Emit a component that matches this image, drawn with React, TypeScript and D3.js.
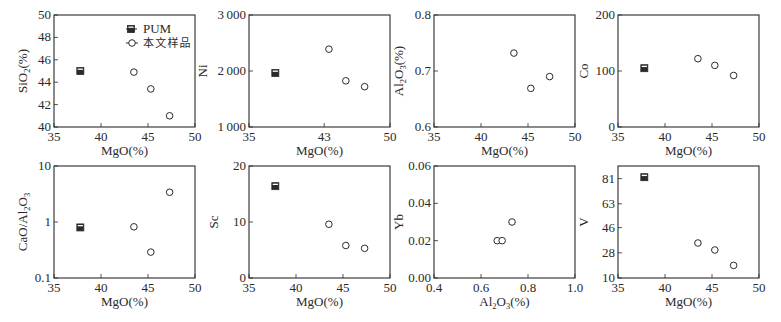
import * as d3 from 'd3';

// sample MgO (%) and PUM reference
const sampleMgO = [43.5, 45.3, 47.3];
const pumMgO = 37.8;

const sampleSiO2 = [44.9, 43.4, 41.0];
const pumSiO2 = 45.0;
const sampleNi = [2390, 1825, 1720];
const pumNi = 1965;
const sampleAl2O3 = [0.732, 0.669, 0.69];
const sampleCo = [122, 110, 92];
const pumCo = 105;
const sampleCaOAl = [0.82, 0.29, 3.4];
const pumCaOAl = 0.8;
const sampleSc = [9.6, 5.8, 5.3];
const pumSc = 16.4;
const sampleYb = [0.03, 0.02, 0.02];
const sampleV = [35, 30, 19];
const pumV = 82;

const mgoTicks = [35, 40, 45, 50];
const niMgoTicks = [35, 43, 50];
const al2o3Ticks = [0.4, 0.6, 0.8, 1.0];
const vTicks = [10, 28, 46, 63, 81];

const W = 781, H = 322;
const colX = [54, 249, 434, 618];
const rowY = [15, 166];
const pw = 141, ph = 112;
const ink = '#2a2a2a';
const serif = "'Liberation Serif', 'Times New Roman', Times, 'DejaVu Serif', serif";

type Label = { t: string; sub?: boolean }[];

type Panel = {
  col: number; row: number;
  xDomain: [number, number]; xTicks: number[]; xFmt: (d: number) => string;
  yDomain: [number, number]; yTicks: number[]; yFmt: (d: number) => string;
  log?: boolean;
  xLabel: Label; yLabel: Label; yLabOff: number;
  xs: number[]; ys: number[]; pum?: [number, number];
  legend?: boolean;
};

const mgoLabel: Label = [{ t: 'MgO(%)' }];
const f0 = (d: number) => String(d);

const panels: Panel[] = [
  { col: 0, row: 0, xDomain: [35, 50], xTicks: mgoTicks, xFmt: f0, yDomain: [40, 50], yTicks: [40, 42, 44, 46, 48, 50], yFmt: f0,
    xLabel: mgoLabel, yLabel: [{ t: 'SiO' }, { t: '2', sub: true }, { t: '(%)' }], yLabOff: 27,
    xs: sampleMgO, ys: sampleSiO2, pum: [pumMgO, pumSiO2], legend: true },
  { col: 1, row: 0, xDomain: [35, 50], xTicks: niMgoTicks, xFmt: f0, yDomain: [1000, 3000], yTicks: [1000, 2000, 3000],
    yFmt: d => `${d / 1000}\u2009000`,
    xLabel: mgoLabel, yLabel: [{ t: 'Ni' }], yLabOff: 42,
    xs: sampleMgO, ys: sampleNi, pum: [pumMgO, pumNi] },
  { col: 2, row: 0, xDomain: [35, 50], xTicks: mgoTicks, xFmt: f0, yDomain: [0.6, 0.8], yTicks: [0.6, 0.7, 0.8], yFmt: d3.format('.1f'),
    xLabel: mgoLabel, yLabel: [{ t: 'Al' }, { t: '2', sub: true }, { t: 'O' }, { t: '3', sub: true }, { t: '(%)' }], yLabOff: 31,
    xs: sampleMgO, ys: sampleAl2O3 },
  { col: 3, row: 0, xDomain: [35, 50], xTicks: mgoTicks, xFmt: f0, yDomain: [0, 200], yTicks: [0, 100, 200], yFmt: f0,
    xLabel: mgoLabel, yLabel: [{ t: 'Co' }], yLabOff: 30,
    xs: sampleMgO, ys: sampleCo, pum: [pumMgO, pumCo] },
  { col: 0, row: 1, xDomain: [35, 50], xTicks: mgoTicks, xFmt: f0, yDomain: [0.1, 10], yTicks: [0.1, 1, 10], yFmt: f0, log: true,
    xLabel: mgoLabel, yLabel: [{ t: 'CaO/Al' }, { t: '2', sub: true }, { t: 'O' }, { t: '3', sub: true }], yLabOff: 27,
    xs: sampleMgO, ys: sampleCaOAl, pum: [pumMgO, pumCaOAl] },
  { col: 1, row: 1, xDomain: [35, 50], xTicks: mgoTicks, xFmt: f0, yDomain: [0, 20], yTicks: [0, 10, 20], yFmt: f0,
    xLabel: mgoLabel, yLabel: [{ t: 'Sc' }], yLabOff: 31,
    xs: sampleMgO, ys: sampleSc, pum: [pumMgO, pumSc] },
  { col: 2, row: 1, xDomain: [0.4, 1.0], xTicks: al2o3Ticks, xFmt: d3.format('.1f'), yDomain: [0, 0.06], yTicks: [0, 0.02, 0.04, 0.06], yFmt: d3.format('.2f'),
    xLabel: [{ t: 'Al' }, { t: '2', sub: true }, { t: 'O' }, { t: '3', sub: true }, { t: '(%)' }], yLabel: [{ t: 'Yb' }], yLabOff: 31,
    xs: sampleAl2O3, ys: sampleYb },
  { col: 3, row: 1, xDomain: [35, 50], xTicks: mgoTicks, xFmt: f0, yDomain: [10, 90], yTicks: vTicks, yFmt: f0,
    xLabel: mgoLabel, yLabel: [{ t: 'V' }], yLabOff: 30,
    xs: sampleMgO, ys: sampleV, pum: [pumMgO, pumV] },
];

function Rich({ parts, size }: { parts: Label; size: number }) {
  let shifted = false;
  return (
    <>
      {parts.map((p, i) => {
        let dy = 0;
        if (p.sub && !shifted) { dy = 3; shifted = true; }
        else if (!p.sub && shifted) { dy = -3; shifted = false; }
        return (
          <tspan key={i} dy={dy} style={{ fontSize: p.sub ? size * 0.65 : size }}>{p.t}</tspan>
        );
      })}
    </>
  );
}

function PumMark({ x, y }: { x: number; y: number }) {
  return (
    <g>
      <rect x={x - 3.5} y={y - 3.5} width={7} height={7} fill={ink} stroke={ink} strokeWidth={0.8} />
      <line x1={x - 2.6} x2={x + 2.6} y1={y - 1.8} y2={y - 1.8} stroke="#fff" strokeWidth={1.3} />
    </g>
  );
}

function PanelView({ p }: { p: Panel }) {
  const x0 = colX[p.col], y0 = rowY[p.row];
  const x = d3.scaleLinear().domain(p.xDomain).range([x0, x0 + pw]);
  const y = (p.log ? d3.scaleLog() : d3.scaleLinear()).domain(p.yDomain).range([y0 + ph, y0]);
  const fs = 13;
  const ts = { fontFamily: serif, fontSize: fs };
  const cy = y0 + ph / 2;
  const lx = x0 - p.yLabOff;
  return (
    <g>
      <rect x={x0} y={y0} width={pw} height={ph} fill="none" stroke={ink} strokeWidth={1.1} />
      {p.xTicks.map(t => (
        <g key={'x' + t}>
          <line x1={x(t)} x2={x(t)} y1={y0 + ph} y2={y0 + ph - 4} stroke={ink} strokeWidth={0.8} />
          <text x={x(t)} y={y0 + ph + 14} textAnchor="middle" style={ts}>{p.xFmt(t)}</text>
        </g>
      ))}
      {p.yTicks.map(t => (
        <g key={'y' + t}>
          <line x1={x0} x2={x0 + 4} y1={y(t)} y2={y(t)} stroke={ink} strokeWidth={0.8} />
          <text x={x0 - 3} y={y(t) + 4} textAnchor="end" style={ts}>{p.yFmt(t)}</text>
        </g>
      ))}
      <text x={x0 + pw / 2} y={y0 + ph + 28} textAnchor="middle" style={ts}>
        <Rich parts={p.xLabel} size={fs} />
      </text>
      <text transform={`translate(${lx},${cy}) rotate(-90)`} textAnchor="middle" style={ts}>
        <Rich parts={p.yLabel} size={fs} />
      </text>
      {p.pum && <PumMark x={x(p.pum[0])} y={y(p.pum[1])} />}
      {p.xs.map((v, i) => (
        <circle key={i} cx={x(v)} cy={y(p.ys[i])} r={3.3} fill="#fff" stroke={ink} strokeWidth={1} />
      ))}
      {p.legend && (
        <g>
          <line x1={x0 + 72} x2={x0 + 83} y1={y0 + 14} y2={y0 + 14} stroke={ink} strokeWidth={1} />
          <PumMark x={x0 + 77} y={y0 + 14} />
          <text x={x0 + 89} y={y0 + 18} style={ts}>PUM</text>
          <line x1={x0 + 72} x2={x0 + 84} y1={y0 + 28} y2={y0 + 28} stroke={ink} strokeWidth={1} />
          <circle cx={x0 + 78} cy={y0 + 28} r={3.3} fill="#fff" stroke={ink} strokeWidth={1} />
          <text x={x0 + 89} y={y0 + 32} style={{ fontSize: 11, letterSpacing: 1.2, fontFamily: "'Noto Sans CJK SC', sans-serif" }}>本文样品</text>
        </g>
      )}
    </g>
  );
}

export default function App() {
  return (
    <svg width={W} height={H} viewBox={`0 0 ${W} ${H}`}
      style={{ position: 'absolute', left: 0, top: 0, background: '#fff', fontFamily: serif }}
      fill={ink}>
      <rect width={W} height={H} fill="#fff" />
      {panels.map((p, i) => <PanelView key={i} p={p} />)}
    </svg>
  );
}
